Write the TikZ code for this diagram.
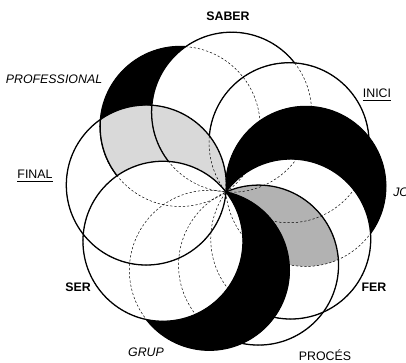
\documentclass[tikz,border=0pt]{standalone}
\usepackage{fontspec}
\setmainfont{Liberation Sans}
\usetikzlibrary{positioning}

\begin{document}
\begin{tikzpicture}[x=0.025cm, y=0.025cm,
    rim/.style={draw, line width=0.9pt},
    hidden/.style={draw, line width=0.35pt, dash pattern=on 1.6pt off 1.4pt},
    lbl/.style={font=\fontsize{8.8}{10}\selectfont, inner sep=0pt},
    disc/.style={radius=80}
]
\useasboundingbox (0,0) rectangle (406,362);

\coordinate (mid) at (226,170);
\foreach \name/\ang in {prof/125, saber/86, inici/38, jo/4, fer/-36,
    proces/-66, grup/-102, ser/-142, final/175}
  \coordinate (\name) at ([shift={(\ang:80)}]mid);

% discs, bottom first
\filldraw[rim, fill=black] (prof) circle[disc];
\filldraw[rim, fill=white] (saber) circle[disc];
\filldraw[rim, fill=white] (inici) circle[disc];
\filldraw[rim, fill=black] (jo) circle[disc];
\filldraw[rim, fill=white] (fer) circle[disc];
% grey where proces lies on jo
\begin{scope}
  \clip (proces) circle[disc];
  \fill[black!30] (jo) circle[disc];
\end{scope}
\draw[rim] (proces) circle[disc];
\filldraw[rim, fill=black] (grup) circle[disc];
% grey where final lies on prof
\begin{scope}
  \clip (final) circle[disc];
  \fill[black!15] (prof) circle[disc];
  \draw[rim] (prof) circle[disc] (saber) circle[disc];
\end{scope}
\filldraw[rim, fill=white] (ser) circle[disc];
\draw[rim] (final) circle[disc];

% hidden edges
\foreach \name in {prof, saber, inici, jo, fer, proces, grup, ser, final}
  \draw[hidden] (\name) circle[disc];

\node[lbl] (saberlbl) at (228,346) {\bfseries SABER};
\node[lbl] (proflbl) at (54,283) {\itshape PROFESSIONAL};
\node[lbl] (inicilbl) at (377,267) {\underline{INICI}};
\node[lbl, anchor=west] (jolbl) at (393,170) {\itshape JO};
\node[lbl] (ferlbl) at (374,75) {\bfseries FER};
\node[lbl] (proceslbl) at (325,7) {PROCÉS};
\node[lbl] (gruplbl) at (146,10) {\itshape GRUP};
\node[lbl] (serlbl) at (78,75) {\bfseries SER};
\node[lbl] (finallbl) at (35,186) {\underline{FINAL}};

\end{tikzpicture}
\end{document}
